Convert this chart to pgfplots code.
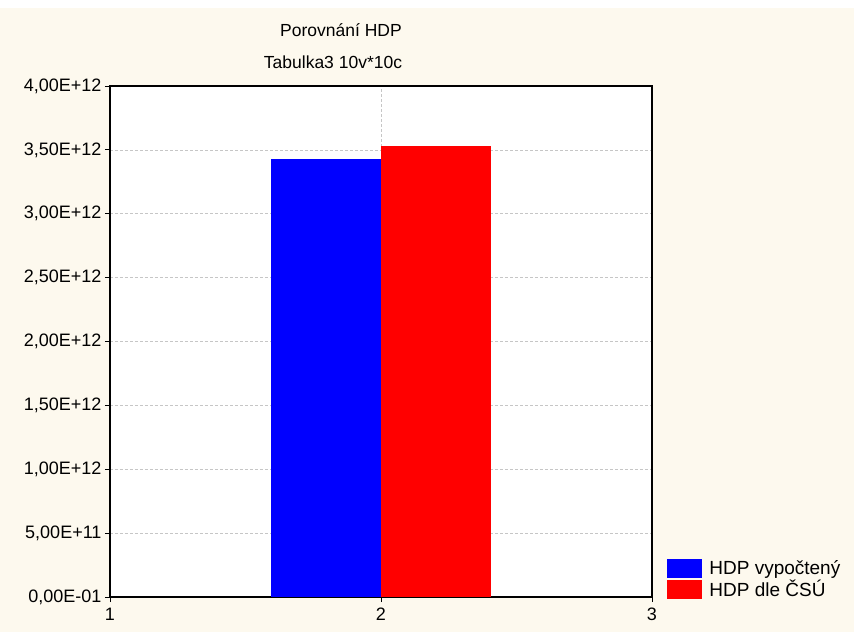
\documentclass[border=0pt]{standalone}
\usepackage{pgfplots}
\pgfplotsset{compat=1.18}
\usepackage{fontspec}
\setmainfont{Liberation Sans}
\definecolor{bg}{RGB}{253,249,238}
\definecolor{myblue}{RGB}{0,0,255}
\definecolor{myred}{RGB}{255,0,0}
\begin{document}
\begin{tikzpicture}[x=1pt,y=1pt]
\fill[white] (-110,-35) rectangle (744,597);
\fill[bg] (-110,-35) rectangle (744,589);
\begin{axis}[
  at={(0,0)}, anchor=south west,
  scale only axis, width=542pt, height=511pt,
  xmin=1, xmax=3, ymin=0, ymax=4,
  axis background/.style={fill=white},
  axis line style={line width=1.2pt},
  xtick={1,2,3}, xticklabels={1,2,3},
  ytick={0,0.5,1,1.5,2,2.5,3,3.5,4},
  yticklabels={{0,00E-01},{5,00E+11},{1,00E+12},{1,50E+12},{2,00E+12},{2,50E+12},{3,00E+12},{3,50E+12},{4,00E+12}},
  xtick pos=left, ytick pos=left,
  tick align=outside, major tick length=5pt,
  tick style={black, line width=0.8pt},
  grid=major, grid style={densely dashed, gray!45, line width=0.5pt},
  xticklabel style={font=\fontsize{18}{21}\selectfont, yshift=-2.5pt},
  yticklabel style={font=\fontsize{18}{21}\selectfont},
  /pgf/number format/assume math mode=true,
  legend style={at={(1.028,-0.007)}, anchor=south west, draw=none, fill=none,
    font=\fontsize{19}{22}\selectfont, row sep=0.5pt, column sep=5pt, inner sep=0pt},
  legend cell align=left,
  legend image code/.code={\fill[#1] (0pt,-9.5pt) rectangle (35pt,9.5pt);},
]
\addplot[ybar, fill=myblue, draw=none, bar width=0.405, bar shift=-0.2025] coordinates {(2,3.429)};
\addlegendentry{HDP vypočtený}
\addplot[ybar, fill=myred, draw=none, bar width=0.405, bar shift=0.2025] coordinates {(2,3.530)};
\addlegendentry{HDP dle ČSÚ}
\end{axis}
\node at (231,567) {\fontsize{17.5}{20}\selectfont Porovnání HDP};
\node at (223,535) {\fontsize{17.5}{20}\selectfont Tabulka3 10v*10c};
\pgfresetboundingbox
\path (-110,-35) rectangle (744,597);
\end{tikzpicture}
\end{document}
